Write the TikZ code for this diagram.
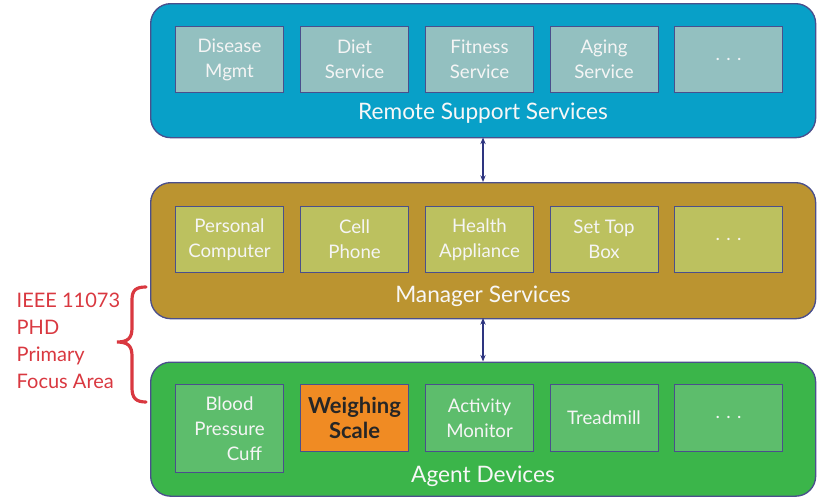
\documentclass[tikz,border=0pt]{standalone}
\usepackage{fontspec}
\setmainfont{Lato}
\usetikzlibrary{arrows.meta}
\definecolor{bluebg}{HTML}{08A0C8}
\definecolor{blueinner}{HTML}{93C0C0}
\definecolor{goldbg}{HTML}{BB9430}
\definecolor{goldinner}{HTML}{BCC15F}
\definecolor{greenbg}{HTML}{3BB54A}
\definecolor{greeninner}{HTML}{5DBD6C}
\definecolor{orangebox}{HTML}{F08B23}
\definecolor{edgecol}{HTML}{4A4F8C}
\definecolor{navy}{HTML}{2E3580}
\definecolor{redtxt}{HTML}{D93840}
\begin{document}
\begin{tikzpicture}[x={(0.75pt,0)},y={(0,-0.75pt)},
  layer/.style={draw=edgecol,line width=1pt,rounded corners=15pt},
  inner/.style={draw=edgecol,line width=0.8pt,minimum width=81pt,minimum height=#1,inner sep=0pt,
    text=white!92!gray,align=center,font=\fontsize{14}{18.75}\selectfont},
  inner/.default=49.5pt,
  layertitle/.style={text=white!94!gray,font=\fontsize{17}{20}\selectfont},
  link/.style={draw=navy,line width=1.5pt,{Stealth[length=5pt,width=4pt]}-{Stealth[length=5pt,width=4pt]}},
  redlabel/.style={text=redtxt,align=left,font=\fontsize{15}{20.25}\selectfont}]
\useasboundingbox (0,0) rectangle (826,497);
% layers
\node[layer,fill=bluebg,minimum width=498.75pt,minimum height=100.5pt,anchor=north west] (top) at (150,3) {};
\node[layer,fill=goldbg,minimum width=498.75pt,minimum height=102pt,anchor=north west] (mid) at (150,182) {};
\node[layer,fill=greenbg,minimum width=498.75pt,minimum height=100.5pt,anchor=north west] (bot) at (150,361.5) {};
% top inner
\node[inner,fill=blueinner,anchor=north west] (t1) at (175,26) {Disease\\Mgmt};
\node[inner,fill=blueinner,anchor=north west] (t2) at (300,26) {Diet\\Service};
\node[inner,fill=blueinner,anchor=north west] (t3) at (425,26) {Fitness\\Service};
\node[inner,fill=blueinner,anchor=north west] (t4) at (549.5,26) {Aging\\Service};
\node[inner,fill=blueinner,anchor=north west] (t5) at (674,26) {. . .};
\node[layertitle] (tt) at (483,113) {Remote Support Services};
% mid inner
\node[inner,fill=goldinner,anchor=north west] (m1) at (175,206) {Personal\\Computer};
\node[inner,fill=goldinner,anchor=north west] (m2) at (300,206) {Cell\\Phone};
\node[inner,fill=goldinner,anchor=north west] (m3) at (425,206) {Health\\Appliance};
\node[inner,fill=goldinner,anchor=north west] (m4) at (549.5,206) {Set Top\\Box};
\node[inner,fill=goldinner,anchor=north west] (m5) at (674,206) {. . .};
\node[layertitle] (mt) at (483,296) {Manager Services};
% bottom inner
\node[inner=66pt,fill=greeninner,anchor=north west] (b1) at (175,384) {Blood\\Pressure\\\hspace*{1.6em}Cuff};
\node[inner=50pt,fill=orangebox,anchor=north west,text=black!85,font=\fontsize{16.5}{18.75}\selectfont\bfseries] (b2) at (300,384) {Weighing\\Scale};
\node[inner=50pt,fill=greeninner,anchor=north west] (b3) at (425,384) {Activity\\Monitor};
\node[inner=50pt,fill=greeninner,anchor=north west] (b4) at (549.5,384) {Treadmill};
\node[inner=50pt,fill=greeninner,anchor=north west] (b5) at (674,384) {. . .};
\node[layertitle] (bt) at (483,476) {Agent Devices};
% connectors
\coordinate (a1) at (483,137.5);
\coordinate (a2) at (483,182);
\coordinate (a3) at (483,318);
\coordinate (a4) at (483,361.5);
\draw[link] (a1) -- (a2);
\draw[link] (a3) -- (a4);
% left label
\node[redlabel,anchor=north west] (lbl) at (12,288) {IEEE 11073\\PHD\\Primary\\Focus Area};
\coordinate (bt0) at (146,287);
\coordinate (bt1) at (146,402);
\coordinate (btip) at (117,342);
\draw[redtxt,line width=2.4pt,line cap=round]
  (bt0) .. controls (136,287) and (132,290) .. (132,300)
  -- (132,328) .. controls (132,338) and (128,342) .. (btip)
  .. controls (128,342) and (132,346) .. (132,356)
  -- (132,388) .. controls (132,398) and (136,402) .. (bt1);
\end{tikzpicture}
\end{document}
